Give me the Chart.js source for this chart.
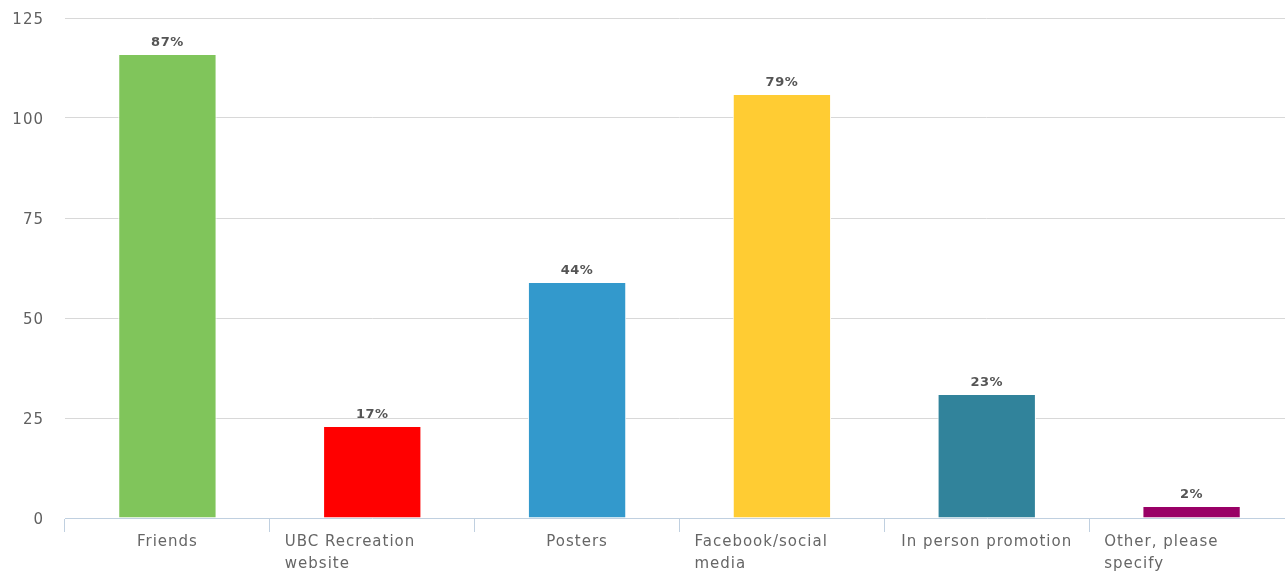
<!DOCTYPE html>
<html>
<head>
<meta charset="utf-8">
<script src="https://cdn.jsdelivr.net/npm/chart.js@4"></script>
<style>
  html, body { margin: 0; padding: 0; background: #fff; overflow: hidden; }
  #wrap { width: 1285px; height: 573px; overflow: hidden; }
</style>
</head>
<body>
<div id="wrap"><canvas id="chart" width="1294" height="573"></canvas></div>
<script>
// Daten
const categories = [
  ["Friends"],
  ["UBC Recreation", "website"],
  ["Posters"],
  ["Facebook/social", "media"],
  ["In person promotion"],
  ["Other, please", "specify"]
];
const counts = [116, 23, 59, 106, 31, 3];
const percentLabels = ["87%", "17%", "44%", "79%", "23%", "2%"];
const barColors = ["#80c55b", "#ff0000", "#3399cc", "#ffcc33", "#31839b", "#990066"];
const yTicks = [0, 25, 50, 75, 100, 125];

const FONT = "'DejaVu Sans', Verdana, sans-serif";

// etwas Buchstabenabstand wie im Original
const spacingPlugin = {
  id: "spacingPlugin",
  beforeDraw(chart) {
    chart.ctx.letterSpacing = "1px";
  }
};

// Prozentwerte über den Balken
const percentPlugin = {
  id: "percentPlugin",
  afterDatasetsDraw(chart) {
    const ctx = chart.ctx;
    const meta = chart.getDatasetMeta(0);
    ctx.save();
    ctx.letterSpacing = "0.5px";
    ctx.font = "bold 13px " + FONT;
    ctx.fillStyle = "#555555";
    ctx.textAlign = "center";
    ctx.textBaseline = "bottom";
    meta.data.forEach((bar, i) => {
      ctx.fillText(percentLabels[i], bar.x, bar.y - 5);
    });
    ctx.restore();
  }
};

// x-Beschriftung: mehrzeilig linksbündig, einzeilig zentriert
const xLabelPlugin = {
  id: "xLabelPlugin",
  afterDraw(chart) {
    const ctx = chart.ctx;
    const scale = chart.scales.x;
    const half = (scale.getPixelForValue(1) - scale.getPixelForValue(0)) / 2;
    ctx.save();
    ctx.letterSpacing = "1px";
    ctx.font = "15px " + FONT;
    ctx.fillStyle = "#666666";
    ctx.textBaseline = "middle";
    categories.forEach((lines, i) => {
      const cx = scale.getPixelForValue(i);
      lines.forEach((line, j) => {
        const y = scale.top + 24 + j * 22;
        if (lines.length > 1) {
          ctx.textAlign = "left";
          ctx.fillText(line, cx - half + 15, y);
        } else {
          ctx.textAlign = "center";
          ctx.fillText(line, cx, y);
        }
      });
    });
    ctx.restore();
  }
};

new Chart(document.getElementById("chart"), {
  type: "bar",
  data: {
    labels: categories.map(c => c.join(" ")),
    datasets: [{
      data: counts,
      backgroundColor: barColors,
      borderColor: "#ffffff",
      borderWidth: 1,
      categoryPercentage: 1,
      barPercentage: 0.48
    }]
  },
  options: {
    responsive: false,
    animation: false,
    layout: { padding: { top: 18, right: 0, left: 0, bottom: 0 } },
    plugins: {
      legend: { display: false },
      tooltip: { enabled: false }
    },
    scales: {
      x: {
        grid: {
          drawOnChartArea: false,
          color: "#c0d0e0",
          tickLength: 14
        },
        border: { color: "#c0d0e0" },
        ticks: { display: false },
        afterFit: s => { s.height = 55; s.paddingLeft = 0; s.paddingRight = 0; }
      },
      y: {
        min: 0,
        max: 125,
        afterBuildTicks: s => { s.ticks = yTicks.map(v => ({ value: v })); },
        grid: {
          drawTicks: false,
          color: c => c.tick.value === 0 ? "rgba(0,0,0,0)" : "#d8d8d8"
        },
        border: { display: false },
        ticks: {
          padding: 21,
          labelOffset: 2,
          color: "#606060",
          font: { family: FONT, size: 15 }
        },
        afterFit: s => { s.width = 65; s.paddingTop = 0; s.paddingBottom = 0; }
      }
    }
  },
  plugins: [spacingPlugin, percentPlugin, xLabelPlugin]
});
</script>
</body>
</html>
